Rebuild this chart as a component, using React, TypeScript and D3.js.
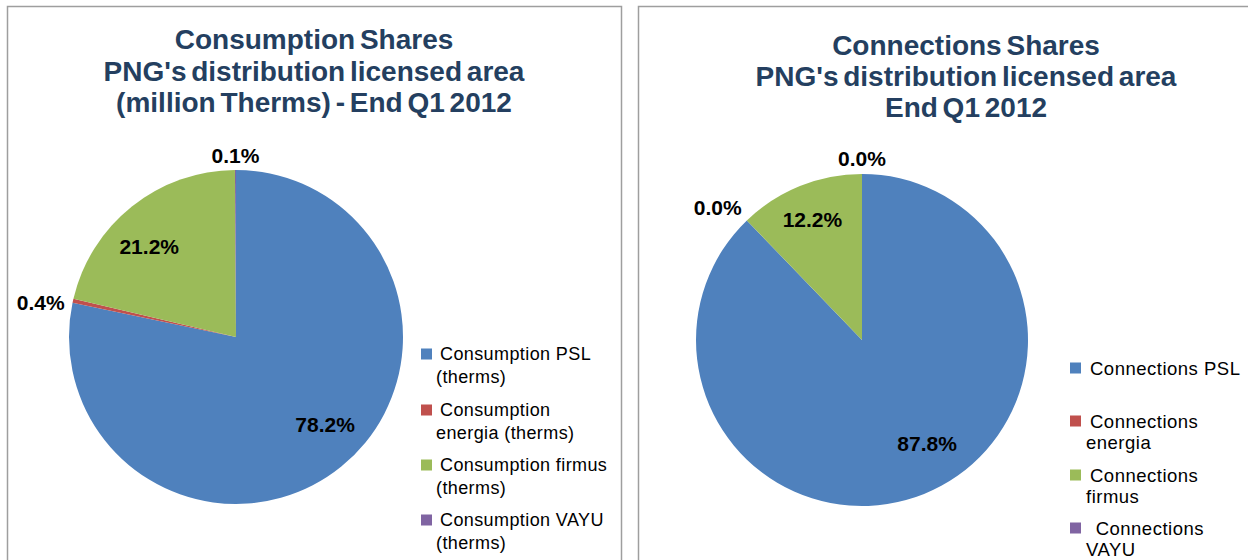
import React from "react";
import * as d3 from "d3";

const consumptionCategories = ["Consumption PSL (therms)", "Consumption energia (therms)", "Consumption firmus (therms)", "Consumption VAYU (therms)"];
const consumptionValues = [78.2, 0.4, 21.2, 0.1];
const consumptionLabels = ["78.2%", "0.4%", "21.2%", "0.1%"];
const consumptionLegendLines = [["Consumption PSL", "(therms)"], ["Consumption", "energia (therms)"], ["Consumption firmus", "(therms)"], ["Consumption VAYU", "(therms)"]];

const connectionCategories = ["Connections PSL", "Connections energia", "Connections firmus", "Connections VAYU"];
const connectionValues = [87.8, 0.0, 12.2, 0.0];
const connectionLabels = ["87.8%", "0.0%", "12.2%", "0.0%"];
const connectionLegendLines = [["Connections PSL"], ["Connections", "energia"], ["Connections", "firmus"], [" Connections", "VAYU"]];

const colors = ["#4F81BD", "#C0504D", "#9BBB59", "#8064A2"];
const titleColor = "#243F60";
const FONT = "'Liberation Sans', Arial, sans-serif";

type PanelProps = {
  x: number; w: number;
  title: string[]; titleY: number[]; titleCx: number;
  values: number[]; labels: string[];
  cx: number; cy: number; r: number;
  labelPos: { r: number; dx: number; dy: number }[];
  legend: string[][]; legendX: number; legendY: number[];
  legendFont: number; legendSpacing: number; legendLine: number;
  legendTextDx: number; legendIndentDx: number;
};

function Panel(p: PanelProps) {
  const pie = d3.pie<number>().sort(null).value((d) => d)(p.values);
  const arc = d3.arc<d3.PieArcDatum<number>>().innerRadius(0).outerRadius(p.r);
  return (
    <g>
      <rect x={p.x} y={6.5} width={p.w} height={600} fill="#fff" stroke="#9E9E9E" strokeWidth={1.5} />
      {p.title.map((t, i) => (
        <text key={i} x={p.titleCx} y={p.titleY[i]} textAnchor="middle" fontFamily={FONT} fontWeight="bold" fontSize={28} fill={titleColor} wordSpacing={-3}>{t}</text>
      ))}
      <g transform={`translate(${p.cx},${p.cy})`}>
        {pie.map((d, i) => (
          <path key={i} d={arc(d) || ""} fill={colors[i]} />
        ))}
        {pie.map((d, i) => {
          const a = (d.startAngle + d.endAngle) / 2;
          const lp = p.labelPos[i];
          const x = Math.sin(a) * lp.r + lp.dx;
          const y = -Math.cos(a) * lp.r + lp.dy;
          return (
            <text key={"l" + i} x={x} y={y} textAnchor="middle" dominantBaseline="central" fontFamily={FONT} fontWeight="bold" fontSize={21} fill="#000">{p.labels[i]}</text>
          );
        })}
      </g>
      {p.legend.map((lines, i) => (
        <g key={"lg" + i}>
          <rect x={p.legendX} y={p.legendY[i] - 5.5} width={11} height={11} fill={colors[i]} />
          {lines.map((ln, j) => (
            <text key={j} x={j === 0 ? p.legendX + p.legendTextDx : p.legendX + p.legendIndentDx} y={p.legendY[i] + j * p.legendLine} dominantBaseline="central" fontFamily={FONT} fontSize={p.legendFont} letterSpacing={p.legendSpacing} fill="#000" style={{ whiteSpace: "pre" }}>{ln}</text>
          ))}
        </g>
      ))}
    </g>
  );
}

export default function App() {
  return (
    <svg width={1248} height={560} style={{ position: "absolute", left: 0, top: 0, background: "#fff" }}>
      <rect x={0} y={0} width={1248} height={560} fill="#fff" />
      <Panel
        x={7.5} w={614}
        title={["Consumption Shares", "PNG's distribution licensed area", "(million Therms) - End Q1 2012"]}
        titleY={[49, 81, 112]} titleCx={314}
        values={consumptionValues} labels={consumptionLabels}
        cx={236} cy={337} r={167}
        labelPos={[
          { r: 100, dx: 26, dy: 10 },
          { r: 197, dx: -3, dy: 8 },
          { r: 120, dx: -12, dy: 3 },
          { r: 182, dx: 0, dy: 0 },
        ]}
        legend={consumptionLegendLines} legendX={421}
        legendY={[354, 410, 465, 520]}
        legendFont={18} legendSpacing={0.4} legendLine={22.5}
        legendTextDx={19} legendIndentDx={15}
      />
      <Panel
        x={638.5} w={620}
        title={["Connections Shares", "PNG's distribution licensed area", "End Q1 2012"]}
        titleY={[55, 86, 117]} titleCx={966}
        values={connectionValues} labels={connectionLabels}
        cx={862} cy={340} r={166}
        labelPos={[
          { r: 110, dx: 24, dy: 1 },
          { r: 195, dx: -9, dy: 8 },
          { r: 130, dx: -1, dy: 0 },
          { r: 182, dx: 0, dy: 0 },
        ]}
        legend={connectionLegendLines} legendX={1070}
        legendY={[368, 421, 475, 528]}
        legendFont={18.5} legendSpacing={0.5} legendLine={21.5}
        legendTextDx={20} legendIndentDx={16}
      />
    </svg>
  );
}
